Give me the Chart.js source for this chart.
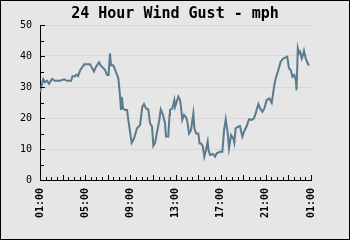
<!DOCTYPE html>
<html>
<head>
<meta charset="utf-8">
<script src="https://cdn.jsdelivr.net/npm/chart.js@4/dist/chart.umd.min.js"></script>
<style>
html,body{margin:0;padding:0;background:#e6e6e6;}
#wrap{width:350px;height:240px;position:relative;}
</style>
</head>
<body>
<div id="wrap"><canvas id="c" width="350" height="240"></canvas></div>
<script>
// Hours elapsed since 01:00 (start of window)
const hours = [0,0.29,0.44,0.62,0.80,1.06,1.33,1.77,2.15,2.39,2.75,2.88,3.10,3.23,3.37,3.57,3.92,4.43,4.78,4.96,5.23,5.40,5.58,5.76,5.94,6.07,
6.20,6.29,6.49,6.71,6.94,7.09,7.17,7.26,7.35,7.53,7.71,7.82,7.97,8.12,8.33,8.59,8.86,9.06,9.21,9.39,9.59,9.74,9.92,10.04,10.19,10.34,10.57,10.69,10.89,11.07,11.16,11.36,11.47,
11.51,11.72,11.90,11.96,12.11,12.25,12.40,12.49,12.60,12.75,12.91,13.02,13.20,13.37,13.58,13.67,13.82,14.02,14.13,14.26,14.41,14.55,14.70,14.85,14.92,15.06,15.30,15.50,15.65,15.94,16.15,
16.30,16.45,16.63,16.74,16.92,17.12,17.21,17.33,17.54,17.71,17.92,18.07,18.31,18.51,18.75,18.95,19.10,19.34,19.49,19.69,19.87,20.08,20.31,20.52,20.75,20.88,21.11,21.32,21.55,21.90,
22.05,22.21,22.35,22.52,22.65,22.72,22.83,22.94,23.03,23.18,23.29,23.38,23.53,23.71,23.83];
const gust = [28.5,32.5,31.5,32,31,32.6,32,32,32.5,32,32,33.5,33.5,34,33.5,35.5,37.3,37.3,35,36.5,38,36.8,36.2,35.5,33.9,33.9,
40.9,37,37,35,32.8,26.9,22.6,26.7,23.1,22.6,22.6,19.4,15.6,12,13.4,16.7,17.7,23.6,24.5,23.1,22.8,18.3,17.2,11,12,15,19.4,22.8,21,18.3,14,14,21,
22.6,23.1,25.8,23.6,25.3,26.9,25.8,23.4,19.4,21,20.4,19.4,15,16.1,21.5,16.7,15,15,11.8,11.8,11,7.5,9.7,12.4,9.7,8.1,8.4,7.5,8.6,9.1,9.1,
16.1,19.6,15,10.2,14.5,13.4,12,16.7,17.2,17.4,14,15.6,17.4,19.6,19.4,19.9,21.5,24.5,23.1,22,23.1,25.8,26.3,24.9,30.6,32.8,35.5,38.2,39.2,39.8,
36,35.5,33.3,33.9,32.3,29,42.5,40.9,41.4,39.2,40.3,41.7,39.2,37.6,37];
const xTickLabels = ['01:00','05:00','09:00','13:00','17:00','21:00','01:00'];
const yTickLabels = ['0','10','20','30','40','50'];
const titleText = '24 Hour Wind Gust - mph';

const points = hours.map((h,i)=>({x:h,y:gust[i]}));

const frame = {
  id:'frame',
  beforeDraw(chart){
    const ctx = chart.ctx;
    ctx.save();
    ctx.fillStyle = '#e6e6e6';
    ctx.fillRect(0,0,chart.width,chart.height);
    ctx.restore();
  },
  afterDraw(chart){
    const ctx = chart.ctx;
    const xs = chart.scales.x, ys = chart.scales.y;
    const a = chart.chartArea;
    ctx.save();
    ctx.strokeStyle = '#000';
    ctx.lineWidth = 1;
    ctx.beginPath();
    xs.ticks.forEach(t=>{
      const px = Math.round(xs.getPixelForValue(t.value)) + 0.5;
      const len = (Math.abs(t.value % 2) < 1e-6) ? 5 : 3;
      ctx.moveTo(px, a.bottom);
      ctx.lineTo(px, a.bottom - len);
    });
    ys.ticks.forEach(t=>{
      const py = Math.round(ys.getPixelForValue(t.value)) + 0.5;
      const len = (t.value % 10 === 0) ? 5 : 4;
      ctx.moveTo(a.left, py);
      ctx.lineTo(a.left + len, py);
    });
    ctx.stroke();
    ctx.strokeRect(0.5,0.5,chart.width-1,chart.height-1);
    ctx.restore();
  }
};

new Chart(document.getElementById('c'), {
  type:'line',
  data:{datasets:[{data:points,borderColor:'#5b7a8c',borderWidth:2,pointRadius:0,tension:0,fill:false}]},
  options:{
    responsive:false,
    animation:false,
    layout:{padding:0},
    plugins:{
      legend:{display:false},
      tooltip:{enabled:false},
      title:{display:true,text:titleText,color:'#000',
        font:{family:'"DejaVu Sans Mono", monospace',size:15,weight:'bold'},
        padding:{top:5,bottom:2}}
    },
    scales:{
      x:{type:'linear',min:0,max:24,
        afterFit(s){ s.height = 60; },
        border:{display:true,color:'#000',width:1},
        grid:{display:true,drawOnChartArea:false,drawTicks:false},
        ticks:{stepSize:0.5,autoSkip:false,maxRotation:90,minRotation:90,padding:8,color:'#000',
          font:{family:'"DejaVu Sans Mono", monospace',size:10,weight:'bold'},
          callback(v){ return (v % 4 === 0) ? xTickLabels[v/4] : ''; }}
      },
      y:{min:0,max:50,
        afterFit(s){ s.width = 40; },
        border:{display:true,color:'#000',width:1},
        grid:{drawTicks:false,color(c){ return (c.tick && c.tick.value % 10 === 0 && c.tick.value !== 0) ? '#d8d8d8' : 'rgba(0,0,0,0)'; }},
        ticks:{stepSize:5,padding:8,color:'#000',
          font:{family:'"DejaVu Sans Mono", monospace',size:10},
          callback(v){ return (v % 10 === 0) ? yTickLabels[v/10] : ''; }}
      },
      yR:{position:'right',min:0,max:50,display:true,
        afterFit(s){ s.width = 39; },
        border:{display:false},
        grid:{display:false},
        ticks:{display:false}
      }
    }
  },
  plugins:[frame]
});
</script>
</body>
</html>
